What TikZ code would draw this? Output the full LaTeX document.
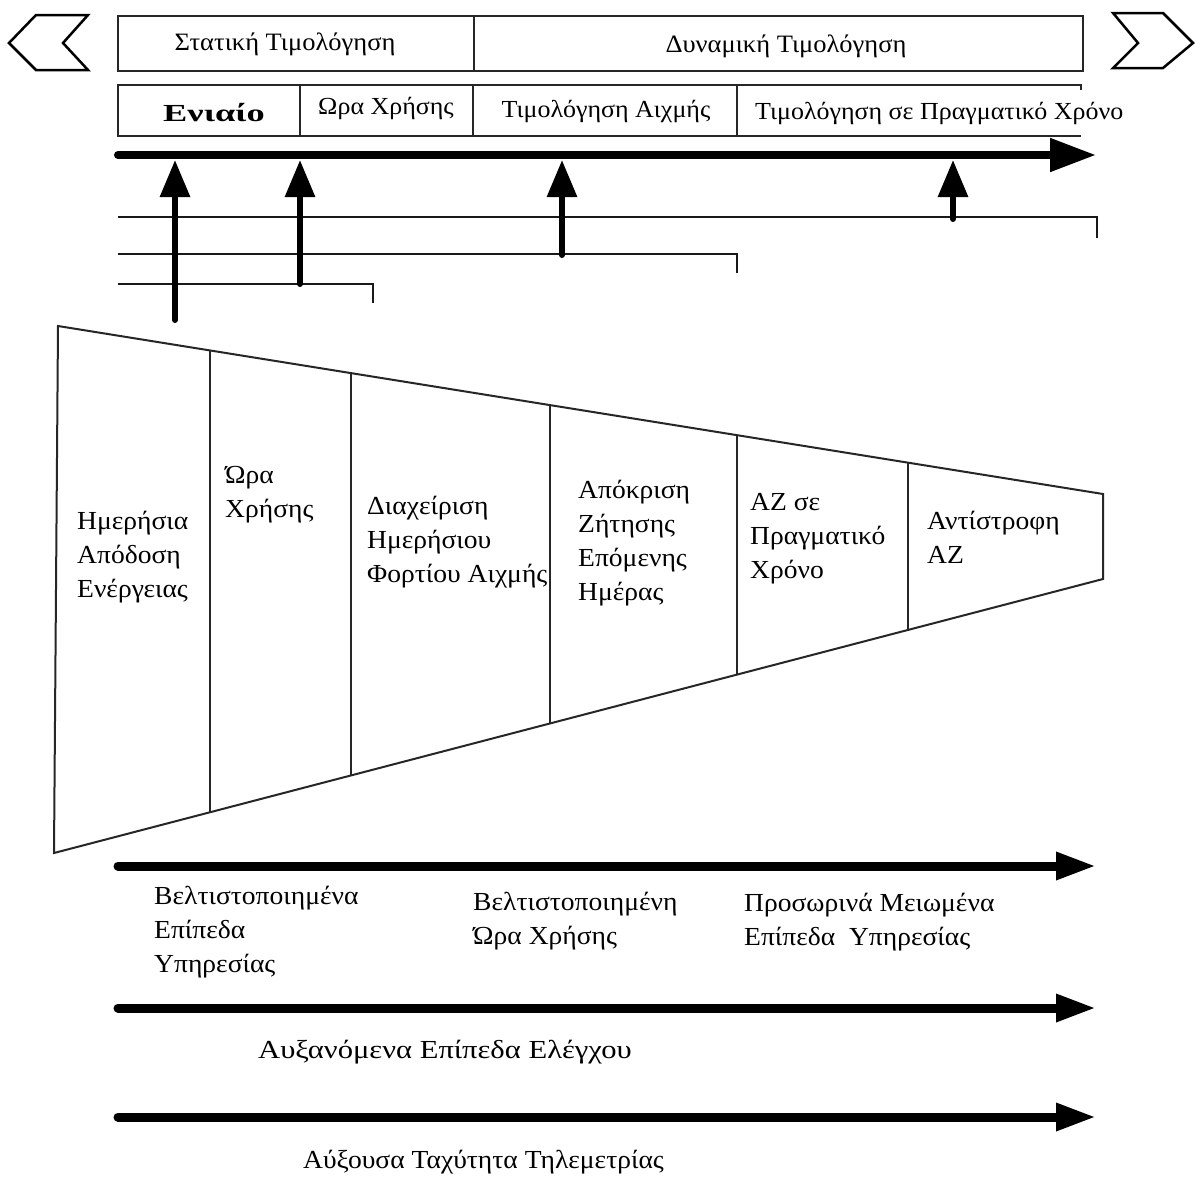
\documentclass[tikz,border=0pt]{standalone}
\usepackage{fontspec}
\usepackage{graphicx}
\setmainfont[FakeStretch=1.06]{Liberation Serif}
\usetikzlibrary{arrows.meta}
\begin{document}
\begin{tikzpicture}[x=1pt,y=-1pt,
  frame/.style={line width=2pt, draw=black!85},
  guide/.style={line width=2.5pt, draw=black!90},
  bigarrow/.style={line width=8pt, line cap=round, -{Triangle[length=46pt,width=32pt]}},
  lowarrow/.style={line width=9pt, line cap=round, -{Triangle[length=40pt,width=26pt]}},
  uparrow/.style={line width=6pt, line cap=round, -{Triangle[length=37pt,width=29pt]}},
  toplbl/.style={font=\fontsize{25}{28}\selectfont, inner sep=0pt},
  rowlbl/.style={font=\fontsize{24.5}{28}\selectfont, inner sep=0pt},
  lbl/.style={font=\fontsize{26}{34}\selectfont, inner sep=0pt, align=left, anchor=west},
]
\useasboundingbox (0,0) rectangle (1196,1178);

% side chevrons
\draw[line width=2.5pt, line join=miter] (9,43) -- (36,15) -- (88,15) -- (63,43) -- (88,70) -- (36,70) -- cycle;
\draw[line width=2.5pt, line join=miter] (1113,13) -- (1163,13) -- (1193,43) -- (1163,68) -- (1113,68) -- (1138,43) -- cycle;

% upper row: static / dynamic pricing
\draw[frame] (118,16) rectangle (1083,71);
\draw[frame] (474,16) -- (474,71);
\node[toplbl] (stat) at (285,44) {Στατική Τιμολόγηση};
\node[toplbl] (dyn) at (786,46) {Δυναμική Τιμολόγηση};

% lower row: tariff types
\draw[frame] (1081,90) -- (1081,85) -- (118,85) -- (118,136) -- (1081,136);
\foreach \xx in {300,473,737} \draw[frame] (\xx,85) -- (\xx,136);
\node[rowlbl] (flat) at (214,113) {\scalebox{1.4}[1]{\bfseries Ενιαίο}};
\node[rowlbl] (tou) at (386,108) {Ωρα Χρήσης};
\node[rowlbl] (peak) at (606,111) {Τιμολόγηση Αιχμής};
\node[rowlbl, anchor=west] (rtp) at (755,113) {Τιμολόγηση σε Πραγματικό Χρόνο};

% timeline arrow
\coordinate (tl0) at (118,155);
\coordinate (tl1) at (1096,155);
\draw[bigarrow] (tl0) -- (tl1);

% bracket lines
\draw[guide] (118,217) -| (1097,238);
\draw[guide] (118,254) -| (737,273);
\draw[guide] (118,284) -| (373,303);

% vertical arrows into the timeline
\coordinate (u1) at (175,320); \coordinate (v1) at (175,160);
\coordinate (u2) at (300,284); \coordinate (v2) at (300,160);
\coordinate (u3) at (562,255); \coordinate (v3) at (562,160);
\coordinate (u4) at (953,219); \coordinate (v4) at (953,160);
\draw[uparrow] (u1) -- (v1);
\draw[uparrow] (u2) -- (v2);
\draw[uparrow] (u3) -- (v3);
\draw[uparrow] (u4) -- (v4);

% funnel
\draw[frame, line join=miter] (58,326) -- (1103,494) -- (1103,579) -- (54,853) -- cycle;
\draw[frame] (209.5,350.3) -- (209.5,812.5);
\draw[frame] (351,373.1) -- (351,775.4);
\draw[frame] (550,405.1) -- (550,723.4);
\draw[frame] (737,435.1) -- (737,674.6);
\draw[frame] (908,462.7) -- (908,629.9);

\node[lbl] (f1) at (77,557) {Ημερήσια\\Απόδοση\\Ενέργειας};
\node[lbl] (f2) at (225,495) {Ώρα\\Χρήσης};
\node[lbl] (f3) at (367,542) {Διαχείριση\\Ημερήσιου\\Φορτίου Αιχμής};
\node[lbl] (f4) at (578,543) {Απόκριση\\Ζήτησης\\Επόμενης\\Ημέρας};
\node[lbl] (f5) at (750,539) {ΑΖ σε\\Πραγματικό\\Χρόνο};
\node[lbl] (f6) at (927,537) {Αντίστροφη\\ΑΖ};

% lower arrows
\coordinate (a0) at (118,866); \coordinate (a1) at (1096,866);
\coordinate (b0) at (118,1008); \coordinate (b1) at (1096,1008);
\coordinate (c0) at (118,1117); \coordinate (c1) at (1096,1117);
\draw[lowarrow] (a0) -- (a1);
\draw[lowarrow] (b0) -- (b1);
\draw[lowarrow] (c0) -- (c1);

\node[lbl] (g1) at (154,932) {Βελτιστοποιημένα\\Επίπεδα\\ Υπηρεσίας};
\node[lbl] (g2) at (473,921) {Βελτιστοποιημένη\\Ώρα Χρήσης};
\node[lbl] (g3) at (744,922) {Προσωρινά Μειωμένα\\Επίπεδα\ \ Υπηρεσίας};
\node[lbl] (h1) at (258,1052) {\scalebox{1.11}[1]{Αυξανόμενα Επίπεδα Ελέγχου}};
\node[lbl] (h2) at (303,1162) {Αύξουσα Ταχύτητα Τηλεμετρίας};
\end{tikzpicture}
\end{document}
